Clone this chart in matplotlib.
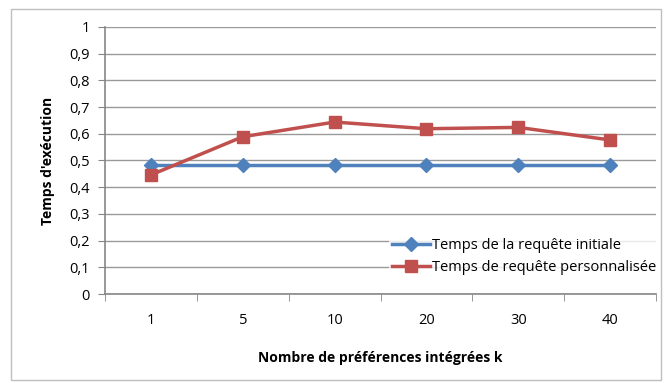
import matplotlib.pyplot as plt
from matplotlib.patches import Rectangle

k_labels = ['1', '5', '10', '20', '30', '40']
t_initiale = [0.483, 0.483, 0.483, 0.483, 0.483, 0.483]
t_perso = [0.446, 0.589, 0.644, 0.619, 0.624, 0.577]

plt.rcParams['font.family'] = ['Open Sans', 'DejaVu Sans']

fig = plt.figure(figsize=(6.64, 3.83), dpi=100)
fig.patches.append(Rectangle((11 / 664, 3 / 383), 650 / 664, 371 / 383,
                             transform=fig.transFigure, fill=False,
                             edgecolor='#bfbfbf', linewidth=1))
ax = fig.add_axes([105 / 664, 1 - 294 / 383, 551 / 664, 267 / 383])

x = list(range(len(k_labels)))
ax.plot(x, t_initiale, color='#4f81bd', linewidth=2.5, marker='D',
        markersize=7, label='Temps de la requête initiale')
ax.plot(x, t_perso, color='#c0504d', linewidth=2.5, marker='s',
        markersize=9, label='Temps de requête personnalisée')

ax.set_xlim(-0.5, 5.5)
ax.set_ylim(0, 1)
ax.set_yticks([i / 10 for i in range(11)])
ax.set_yticklabels(['0'] + ['0,%d' % i for i in range(1, 10)] + ['1'])
ax.set_xticks(x)
ax.set_xticklabels(k_labels)
ax.set_xticks([i - 0.5 for i in range(7)], minor=True)
ax.tick_params(axis='x', which='major', length=0, pad=14, labelsize=10.5)
ax.tick_params(axis='x', which='minor', length=5, color='#868686')
ax.tick_params(axis='y', length=5, color='#868686', labelsize=10.5, pad=6)
ax.yaxis.grid(True, color='#9a9a9a', linewidth=1)
ax.set_axisbelow(True)
for s in ['top', 'right']:
    ax.spines[s].set_visible(False)
for s in ['left', 'bottom']:
    ax.spines[s].set_color('#868686')
    ax.spines[s].set_linewidth(1.2)

ax.set_xlabel('Nombre de préférences intégrées k', fontsize=10,
              fontweight='bold', labelpad=16)
ax.set_ylabel("Temps d'exécution", fontsize=10, fontweight='bold', labelpad=10)

leg = ax.legend(loc='lower right', bbox_to_anchor=(1.005, 0.06), frameon=True,
                fontsize=10.5, handlelength=2.6, borderaxespad=0,
                labelspacing=0.5, handletextpad=0.1, borderpad=0.2)
leg.get_frame().set_facecolor('white')
leg.get_frame().set_edgecolor('none')

fig.savefig('out.png', dpi=100)
